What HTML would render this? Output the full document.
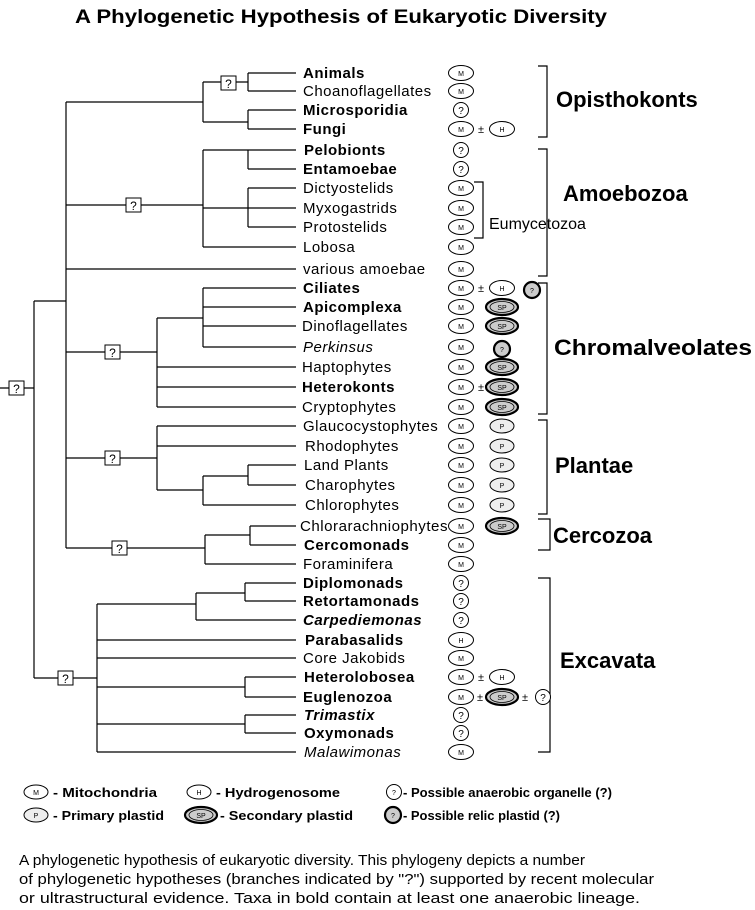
<!DOCTYPE html>
<html><head><meta charset="utf-8"><style>
html,body{margin:0;padding:0;background:#fff;}
svg{display:block;font-family:"Liberation Sans",Arial,sans-serif;}
.l{font-size:15px;letter-spacing:0.5px;}
.b{font-weight:bold;}
.i{font-style:italic;}
.s{font-size:7px;text-anchor:middle;}
.g{font-size:22px;font-weight:bold;}
</style></head><body>
<svg width="755" height="910" viewBox="0 0 755 910" xmlns="http://www.w3.org/2000/svg">
<text x="75" y="23" font-size="19" font-weight="bold" textLength="532" lengthAdjust="spacingAndGlyphs">A Phylogenetic Hypothesis of Eukaryotic Diversity</text>

<g stroke="#000" stroke-width="1.2" fill="none">
<path d="M0 388H34M34 301V678M34 301H66M34 678H97"/>
<path d="M66 102V548"/>
<path d="M66 102H203M203 82V122M203 82H248M248 73V91M248 73H296M248 91H296M203 122H248M248 110V129M248 110H296M248 129H296"/>
<path d="M66 205H203M203 150V247M203 150H248M248 150V169M248 150H296M248 169H296M203 208H296M248 188V227M248 188H296M248 227H296M203 247H296"/>
<path d="M66 269H296"/>
<path d="M66 352H157M157 318V407M157 318H203M203 288V347M203 288H296M203 307H296M203 326H296M203 347H296M157 367H296M157 387H296M157 407H296"/>
<path d="M66 458H157M157 426V490M157 426H296M157 446H296M157 490H203M203 476V505M203 476H248M248 465V485M248 465H296M248 485H296M203 505H296"/>
<path d="M66 548H205M205 535V564M205 535H250M250 526V545M250 526H296M250 545H296M205 564H296"/>
<path d="M97 604V752M97 604H196M196 593V620M196 593H245M245 583V601M245 583H296M245 601H296M196 620H296M97 640H296M97 658H296M97 687H245M245 677V697M245 677H296M245 697H296M97 724H245M245 715V733M245 715H296M245 733H296M97 752H296"/>
<path d="M538 66H547V137H538"/>
<path d="M538 149H547V276H538"/>
<path d="M474 182H483V238H474"/>
<path d="M538 283H547V414H538"/>
<path d="M538 420H547V514H538"/>
<path d="M538 519H550V550H538"/>
<path d="M538 578H550V752H538"/>
</g>

<g stroke="#000" stroke-width="1" fill="#fff">
<rect x="221" y="76" width="15" height="14"/>
<rect x="126" y="198" width="15" height="14"/>
<rect x="105" y="345" width="15" height="14"/>
<rect x="105" y="451" width="15" height="14"/>
<rect x="112" y="541" width="15" height="14"/>
<rect x="9" y="381" width="15" height="14"/>
<rect x="58" y="671" width="15" height="14"/>
</g>
<g font-size="12" text-anchor="middle">
<text x="228.5" y="88">?</text><text x="133.5" y="210">?</text><text x="112.5" y="357">?</text>
<text x="112.5" y="463">?</text><text x="119.5" y="553">?</text><text x="16.5" y="393">?</text><text x="65.5" y="683">?</text>
</g>

<g class="l">
<text x="303" y="78" class="b">Animals</text>
<text x="303" y="96">Choanoflagellates</text>
<text x="303" y="115" class="b">Microsporidia</text>
<text x="303" y="134" class="b">Fungi</text>
<text x="304" y="155" class="b">Pelobionts</text>
<text x="303" y="174" class="b">Entamoebae</text>
<text x="303" y="193">Dictyostelids</text>
<text x="303" y="213">Myxogastrids</text>
<text x="303" y="232">Protostelids</text>
<text x="303" y="252">Lobosa</text>
<text x="303" y="274">various amoebae</text>
<text x="303" y="293" class="b">Ciliates</text>
<text x="303" y="312" class="b">Apicomplexa</text>
<text x="302" y="331">Dinoflagellates</text>
<text x="303" y="352" class="i">Perkinsus</text>
<text x="302" y="372">Haptophytes</text>
<text x="302" y="392" class="b">Heterokonts</text>
<text x="302" y="412">Cryptophytes</text>
<text x="303" y="431">Glaucocystophytes</text>
<text x="305" y="451">Rhodophytes</text>
<text x="304" y="470">Land Plants</text>
<text x="305" y="490">Charophytes</text>
<text x="305" y="510">Chlorophytes</text>
<text x="300" y="531" textLength="148" lengthAdjust="spacingAndGlyphs">Chlorarachniophytes</text>
<text x="304" y="550" class="b">Cercomonads</text>
<text x="303" y="569">Foraminifera</text>
<text x="303" y="588" class="b">Diplomonads</text>
<text x="303" y="606" class="b">Retortamonads</text>
<text x="303" y="625" class="b i">Carpediemonas</text>
<text x="305" y="645" class="b">Parabasalids</text>
<text x="303" y="663">Core Jakobids</text>
<text x="304" y="682" class="b">Heterolobosea</text>
<text x="303" y="702" class="b">Euglenozoa</text>
<text x="304" y="720" class="b i">Trimastix</text>
<text x="304" y="738" class="b">Oxymonads</text>
<text x="304" y="757" class="i">Malawimonas</text>
</g>

<text x="556" y="107" class="g">Opisthokonts</text>
<text x="563" y="201" class="g">Amoebozoa</text>
<text x="489" y="229" font-size="16">Eumycetozoa</text>
<text x="554" y="355" class="g" textLength="198" lengthAdjust="spacingAndGlyphs">Chromalveolates</text>
<text x="555" y="473" class="g">Plantae</text>
<text x="553" y="543" class="g">Cercozoa</text>
<text x="560" y="668" class="g">Excavata</text>

<g stroke="#000" stroke-width="1" fill="#fff">
<ellipse cx="461" cy="73" rx="12.5" ry="7.5"/><ellipse cx="461" cy="91" rx="12.5" ry="7.5"/>
<ellipse cx="461" cy="129" rx="12.5" ry="7.5"/>
<ellipse cx="461" cy="188" rx="12.5" ry="7.5"/><ellipse cx="461" cy="208" rx="12.5" ry="7.5"/><ellipse cx="461" cy="227" rx="12.5" ry="7.5"/>
<ellipse cx="461" cy="247" rx="12.5" ry="7.5"/><ellipse cx="461" cy="269" rx="12.5" ry="7.5"/>
<ellipse cx="461" cy="288" rx="12.5" ry="7.5"/><ellipse cx="461" cy="307" rx="12.5" ry="7.5"/><ellipse cx="461" cy="326" rx="12.5" ry="7.5"/>
<ellipse cx="461" cy="347" rx="12.5" ry="7.5"/><ellipse cx="461" cy="367" rx="12.5" ry="7.5"/><ellipse cx="461" cy="387" rx="12.5" ry="7.5"/>
<ellipse cx="461" cy="407" rx="12.5" ry="7.5"/><ellipse cx="461" cy="426" rx="12.5" ry="7.5"/><ellipse cx="461" cy="446" rx="12.5" ry="7.5"/>
<ellipse cx="461" cy="465" rx="12.5" ry="7.5"/><ellipse cx="461" cy="485" rx="12.5" ry="7.5"/><ellipse cx="461" cy="505" rx="12.5" ry="7.5"/>
<ellipse cx="461" cy="526" rx="12.5" ry="7.5"/><ellipse cx="461" cy="545" rx="12.5" ry="7.5"/><ellipse cx="461" cy="564" rx="12.5" ry="7.5"/>
<ellipse cx="461" cy="658" rx="12.5" ry="7.5"/><ellipse cx="461" cy="677" rx="12.5" ry="7.5"/><ellipse cx="461" cy="697" rx="12.5" ry="7.5"/>
<ellipse cx="461" cy="752" rx="12.5" ry="7.5"/>
<ellipse cx="502" cy="129" rx="12.5" ry="7.5"/><ellipse cx="502" cy="288" rx="12.5" ry="7.5"/>
<ellipse cx="461" cy="640" rx="12.5" ry="7.5"/><ellipse cx="502" cy="677" rx="12.5" ry="7.5"/>
<circle cx="461" cy="110" r="7.5"/><circle cx="461" cy="150" r="7.5"/><circle cx="461" cy="169" r="7.5"/>
<circle cx="461" cy="583" r="7.5"/><circle cx="461" cy="601" r="7.5"/><circle cx="461" cy="620" r="7.5"/>
<circle cx="461" cy="715" r="7.5"/><circle cx="461" cy="733" r="7.5"/><circle cx="543" cy="697" r="7.5"/>
</g>
<g stroke="#000" stroke-width="1" fill="#eee">
<ellipse cx="502" cy="426" rx="12" ry="7"/><ellipse cx="502" cy="446" rx="12" ry="7"/><ellipse cx="502" cy="465" rx="12" ry="7"/>
<ellipse cx="502" cy="485" rx="12" ry="7"/><ellipse cx="502" cy="505" rx="12" ry="7"/>
</g>
<g stroke="#000" fill="#ccc">
<g stroke-width="2.2"><ellipse cx="502" cy="307" rx="16" ry="8"/><ellipse cx="502" cy="326" rx="16" ry="8"/><ellipse cx="502" cy="367" rx="16" ry="8"/>
<ellipse cx="502" cy="387" rx="16" ry="8"/><ellipse cx="502" cy="407" rx="16" ry="8"/><ellipse cx="502" cy="526" rx="16" ry="8"/><ellipse cx="502" cy="697" rx="16" ry="8"/></g>
<g stroke-width="0.8"><ellipse cx="502" cy="307" rx="12" ry="5.5"/><ellipse cx="502" cy="326" rx="12" ry="5.5"/><ellipse cx="502" cy="367" rx="12" ry="5.5"/>
<ellipse cx="502" cy="387" rx="12" ry="5.5"/><ellipse cx="502" cy="407" rx="12" ry="5.5"/><ellipse cx="502" cy="526" rx="12" ry="5.5"/><ellipse cx="502" cy="697" rx="12" ry="5.5"/></g>
<g stroke-width="2.2"><circle cx="532" cy="290" r="8"/><circle cx="502" cy="349" r="8"/></g>
</g>
<g class="s">
<text x="461" y="76">M</text><text x="461" y="94">M</text><text x="461" y="132">M</text>
<text x="461" y="191">M</text><text x="461" y="211">M</text><text x="461" y="230">M</text><text x="461" y="250">M</text><text x="461" y="272">M</text>
<text x="461" y="291">M</text><text x="461" y="310">M</text><text x="461" y="329">M</text><text x="461" y="350">M</text><text x="461" y="370">M</text>
<text x="461" y="390">M</text><text x="461" y="410">M</text><text x="461" y="429">M</text><text x="461" y="449">M</text><text x="461" y="468">M</text>
<text x="461" y="488">M</text><text x="461" y="508">M</text><text x="461" y="529">M</text><text x="461" y="548">M</text><text x="461" y="567">M</text>
<text x="461" y="661">M</text><text x="461" y="680">M</text><text x="461" y="700">M</text><text x="461" y="755">M</text>
<text x="502" y="132">H</text><text x="502" y="291">H</text><text x="461" y="643">H</text><text x="502" y="680">H</text>
<text x="502" y="429">P</text><text x="502" y="449">P</text><text x="502" y="468">P</text><text x="502" y="488">P</text><text x="502" y="508">P</text>
<text x="502" y="310">SP</text><text x="502" y="329">SP</text><text x="502" y="370">SP</text><text x="502" y="390">SP</text><text x="502" y="410">SP</text><text x="502" y="529">SP</text><text x="502" y="700">SP</text>
<text x="532" y="293">?</text><text x="502" y="352">?</text>
</g>
<g font-size="10" text-anchor="middle">
<text x="461" y="114">?</text><text x="461" y="154">?</text><text x="461" y="173">?</text>
<text x="461" y="587">?</text><text x="461" y="605">?</text><text x="461" y="624">?</text>
<text x="461" y="719">?</text><text x="461" y="737">?</text><text x="543" y="701">?</text>
</g>
<g font-size="11" text-anchor="middle">
<text x="481" y="133">±</text><text x="481" y="292">±</text><text x="481" y="391">±</text>
<text x="481" y="681">±</text><text x="480" y="701">±</text><text x="525" y="701">±</text>
</g>

<g stroke="#000" stroke-width="1" fill="#fff">
<ellipse cx="36" cy="792" rx="12" ry="7"/>
<ellipse cx="199" cy="792" rx="12" ry="7"/>
<circle cx="394" cy="792" r="7.5"/>
</g>
<ellipse cx="36" cy="815" rx="12" ry="7" fill="#eee" stroke="#000"/>
<ellipse cx="201" cy="815" rx="16" ry="8" fill="#ccc" stroke="#000" stroke-width="2.2"/>
<ellipse cx="201" cy="815" rx="12" ry="5.5" fill="#ccc" stroke="#000" stroke-width="0.8"/>
<circle cx="393" cy="815" r="8" fill="#ccc" stroke="#000" stroke-width="2.2"/>
<g class="s">
<text x="36" y="795">M</text><text x="199" y="795">H</text><text x="394" y="795">?</text>
<text x="36" y="818">P</text><text x="201" y="818">SP</text><text x="393" y="818">?</text>
</g>
<g font-size="13" font-weight="bold">
<text x="53" y="797" textLength="104" lengthAdjust="spacingAndGlyphs">- Mitochondria</text>
<text x="216" y="797" textLength="124" lengthAdjust="spacingAndGlyphs">- Hydrogenosome</text>
<text x="403" y="797" textLength="209" lengthAdjust="spacingAndGlyphs">- Possible anaerobic organelle (?)</text>
<text x="53" y="820" textLength="111" lengthAdjust="spacingAndGlyphs">- Primary plastid</text>
<text x="220" y="820" textLength="133" lengthAdjust="spacingAndGlyphs">- Secondary plastid</text>
<text x="403" y="820" textLength="157" lengthAdjust="spacingAndGlyphs">- Possible relic plastid (?)</text>
</g>
<g font-size="14.5">
<text x="19" y="865" textLength="566" lengthAdjust="spacingAndGlyphs">A phylogenetic hypothesis of eukaryotic diversity.  This phylogeny depicts a number</text>
<text x="19" y="884" textLength="635" lengthAdjust="spacingAndGlyphs">of phylogenetic hypotheses (branches indicated by "?") supported by recent molecular</text>
<text x="19" y="903" textLength="621" lengthAdjust="spacingAndGlyphs">or ultrastructural evidence.  Taxa in bold contain at least one anaerobic lineage.</text>
</g>
</svg>
</body></html>
